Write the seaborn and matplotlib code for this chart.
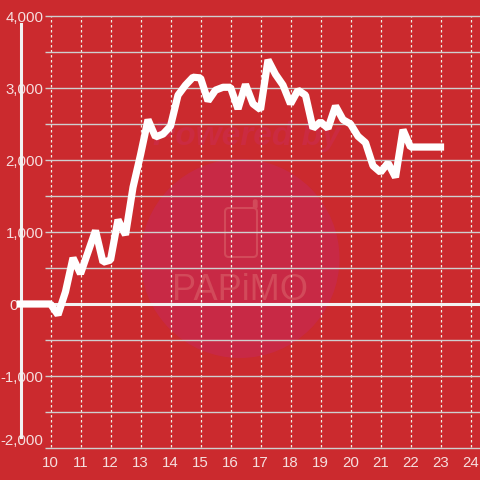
import numpy as np
import pandas as pd
import matplotlib
matplotlib.use("Agg")
import matplotlib.pyplot as plt
from matplotlib.patches import Ellipse, FancyBboxPatch
import seaborn as sns

hours = [9.0, 9.25, 9.5, 9.75, 10.0, 10.25, 10.5, 10.75, 11.0, 11.25, 11.5, 11.75, 12.0, 12.25, 12.5, 12.75,
         13.0, 13.25, 13.5, 13.75, 14.0, 14.25, 14.5, 14.75, 15.0, 15.25, 15.5, 15.75, 16.0, 16.25, 16.5, 16.75,
         17.0, 17.25, 17.5, 17.75, 18.0, 18.25, 18.5, 18.75, 19.0, 19.25, 19.5, 19.75, 20.0, 20.25, 20.5, 20.75,
         21.0, 21.25, 21.5, 21.75, 22.0, 22.25, 22.5, 22.75, 23.0]
values = [0, 0, 0, 0, 0, -150, 170, 640, 420, 720, 1020, 580, 610, 1170, 960, 1620,
          2070, 2560, 2320, 2360, 2470, 2900, 3040, 3150, 3140, 2820, 2970, 3010, 3010, 2710, 3050, 2780,
          2700, 3390, 3190, 3040, 2780, 2970, 2900, 2440, 2530, 2440, 2750, 2560, 2500, 2330, 2240, 1920,
          1830, 1960, 1760, 2420, 2180, 2180, 2180, 2180, 2180]
x_ticks = list(range(10, 25))
y_major = [-2000, -1000, 0, 1000, 2000, 3000, 4000]
y_minor = [-1500, -500, 500, 1500, 2500, 3500]
y_labels = ["-2,000", "-1,000", "0", "1,000", "2,000", "3,000", "4,000"]

BG = "#cb2a2e"
TXT = "#f6dede"
sns.set_theme(style="white")
plt.rcParams["font.family"] = ["Liberation Sans", "DejaVu Sans"]

fig = plt.figure(figsize=(4.8, 4.8), dpi=100, facecolor=BG)
W = H = 480.0
ax = fig.add_axes([20.5 / W, 1 - 448 / H, (W - 20.5) / W, 432 / H], facecolor="none", zorder=2)
ax.set_xlim(9.0, 9.0 + (W - 20.5) / 30.0)
ax.set_ylim(-2000, 4000)


def fx(v):
    return v / W


def fy(v):
    return 1 - v / H


# watermark, in figure pixel space
fig.patches.append(Ellipse((fx(240), fy(258.5)), 199 / W, 199 / H,
                           transform=fig.transFigure, fc="#c82945", ec="none", zorder=-3))
fig.patches.append(FancyBboxPatch((fx(225), fy(257)), 32 / W, 49 / H, boxstyle="round,pad=0,rounding_size=0.008",
                                  transform=fig.transFigure, fc="none", ec="#d24a5a", lw=1.5, zorder=-2))
fig.patches.append(FancyBboxPatch((fx(253.5), fy(208)), 3.5 / W, 8 / H, boxstyle="round,pad=0,rounding_size=0.003",
                                  transform=fig.transFigure, fc="#d24a5a", ec="#d24a5a", lw=1.0, zorder=-2))
fig.text(fx(240), fy(290), "PAPiMO", fontsize=26, color="#d24a5a", ha="center", va="center", zorder=-2)
fig.text(fx(247), fy(136), "Powered by", fontsize=24, fontweight="bold", fontstyle="italic",
         color="#cb2b41", ha="center", va="center", zorder=-2)

# grid
ax.set_xticks(x_ticks)
ax.set_xticklabels([str(t) for t in x_ticks])
ax.set_yticks(y_major)
ax.set_yticklabels(y_labels)
ax.grid(False)
ax.vlines(x_ticks, -1980, 4000, colors="#f0f0e8", linewidth=0.9, linestyles=(0, (2, 2)), zorder=1)
grid_start = 9.0 + 24.5 / 30.0
ax.hlines([v for v in y_major + y_minor if v != 0], grid_start, ax.get_xlim()[1],
          colors="#cfcfcf", linewidth=1.0, zorder=1, clip_on=False)
ax.axhline(0, color="#f2f2f2", linewidth=2.2, zorder=1.5)

df = pd.DataFrame({"hour": hours, "value": values})
sns.lineplot(data=df, x="hour", y="value", ax=ax, color="white", linewidth=5.2, errorbar=None,
             solid_joinstyle="bevel", solid_capstyle="projecting", clip_on=False, zorder=3)
ax.set_xlabel("")
ax.set_ylabel("")

for s in ["top", "right", "bottom"]:
    ax.spines[s].set_visible(False)
ax.spines["left"].set_color("#f2f2f2")
ax.spines["left"].set_linewidth(2.2)
ax.spines["left"].set_bounds(-1850, 3890)

ax.tick_params(axis="x", length=0, pad=5.5, labelsize=10.8, labelcolor=TXT)
ax.tick_params(axis="y", length=0, pad=-16.6, labelsize=10.8, labelcolor=TXT)
for lab, val in zip(ax.get_yticklabels(), y_major):
    if val == 0:
        lab.set_x(-0.055)
    else:
        lab.set_bbox(dict(fc=BG, ec="none", pad=1.0))
    if val == -2000:
        lab.set_va("bottom")

fig.savefig("out.png", dpi=100, facecolor=BG)
